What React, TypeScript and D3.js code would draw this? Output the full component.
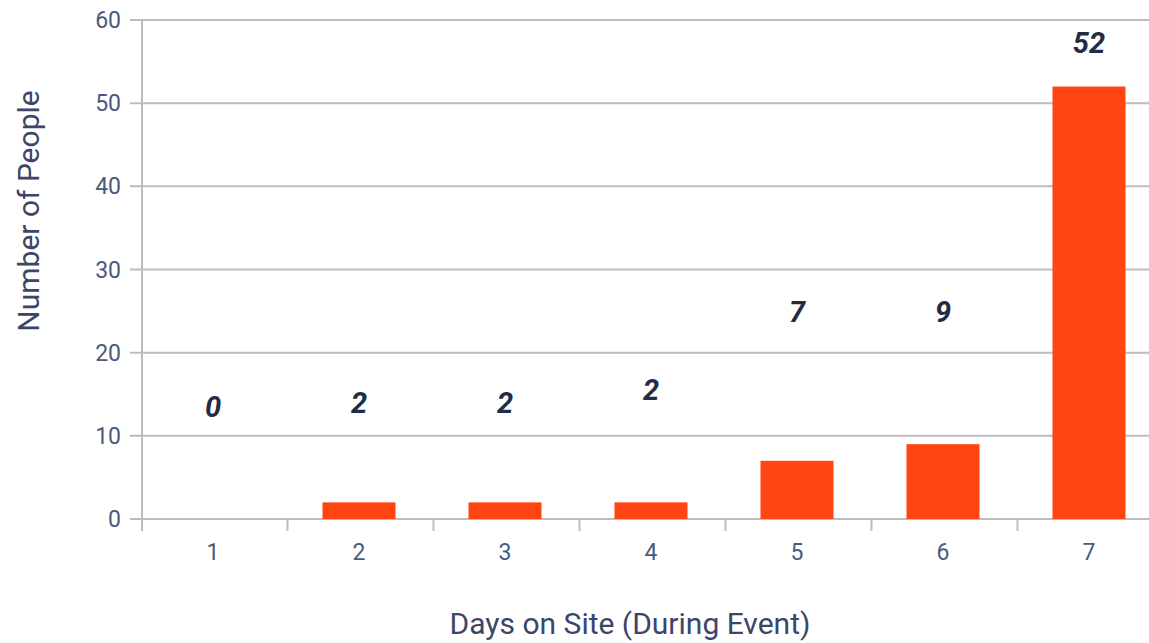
import React, { useEffect, useRef } from 'react';
import * as d3 from 'd3';

// chart data
const days = ['1', '2', '3', '4', '5', '6', '7'];
const people = [0, 2, 2, 2, 7, 9, 52];
const yTicks = [0, 10, 20, 30, 40, 50, 60];
// where each value label sits, in axis units (the source places them unevenly)
const labelLevels = [12.3, 12.7, 12.7, 14.3, 23.7, 23.7, 56];

const width = 1149;
const height = 643;
const left = 142;
const top = 20;
const bottom = 519;

const fontFamily = 'Roboto, "Noto Sans", sans-serif';

function App() {
  const ref = useRef<SVGSVGElement>(null);

  useEffect(() => {
    const svg = d3.select(ref.current);
    svg.selectAll('*').remove();

    const x = d3.scaleBand<string>()
      .domain(days)
      .range([left - 2, left - 2 + 7 * 146])
      .paddingInner(0.5)
      .paddingOuter(0.25);

    const y = d3.scaleLinear().domain([0, 60]).range([bottom, top]);

    // gridlines
    svg.append('g')
      .selectAll('line')
      .data(yTicks)
      .join('line')
      .attr('x1', left - 12)
      .attr('x2', width)
      .attr('y1', d => y(d))
      .attr('y2', d => y(d))
      .attr('stroke', '#bdbdbd')
      .attr('stroke-width', 2);

    // y axis line
    svg.append('line')
      .attr('x1', left).attr('x2', left)
      .attr('y1', top).attr('y2', bottom + 12)
      .attr('stroke', '#bdbdbd')
      .attr('stroke-width', 2);

    // x ticks at band boundaries
    const step = x.step();
    svg.append('g')
      .selectAll('line')
      .data(days.slice(1))
      .join('line')
      .attr('x1', d => (x(d) as number) - step * 0.25 + 1.5)
      .attr('x2', d => (x(d) as number) - step * 0.25 + 1.5)
      .attr('y1', bottom)
      .attr('y2', bottom + 12)
      .attr('stroke', '#bdbdbd')
      .attr('stroke-width', 2);

    // y tick labels
    svg.append('g')
      .selectAll('text')
      .data(yTicks)
      .join('text')
      .attr('x', left - 21)
      .attr('y', d => y(d))
      .attr('dy', '0.35em')
      .attr('text-anchor', 'end')
      .attr('font-family', fontFamily)
      .attr('font-size', 23)
      .attr('fill', '#4b5a7c')
      .text(d => d);

    // x tick labels
    svg.append('g')
      .selectAll('text')
      .data(days)
      .join('text')
      .attr('x', d => (x(d) as number) + x.bandwidth() / 2)
      .attr('y', 560)
      .attr('text-anchor', 'middle')
      .attr('font-family', fontFamily)
      .attr('font-size', 23)
      .attr('fill', '#4b5a7c')
      .text(d => d);

    // bars
    svg.append('g')
      .selectAll('rect')
      .data(people)
      .join('rect')
      .attr('x', (d, i) => x(days[i]) as number)
      .attr('width', x.bandwidth())
      .attr('y', d => y(d))
      .attr('height', d => bottom - y(d))
      .attr('fill', '#ff4511');

    // value labels
    svg.append('g')
      .selectAll('text')
      .data(people)
      .join('text')
      .attr('x', (d, i) => (x(days[i]) as number) + x.bandwidth() / 2)
      .attr('y', (d, i) => y(labelLevels[i]))
      .attr('text-anchor', 'middle')
      .attr('font-family', fontFamily)
      .attr('font-size', 29)
      .attr('font-weight', 'bold')
      .attr('font-style', 'italic')
      .attr('fill', '#232c47')
      .text(d => d);

    // axis titles
    svg.append('text')
      .attr('x', 630)
      .attr('y', 634)
      .attr('text-anchor', 'middle')
      .attr('font-family', fontFamily)
      .attr('font-size', 30)
      .attr('fill', '#3b4668')
      .text('Days on Site (During Event)');

    svg.append('text')
      .attr('transform', 'translate(39,211) rotate(-90)')
      .attr('text-anchor', 'middle')
      .attr('font-family', fontFamily)
      .attr('font-size', 30)
      .attr('fill', '#3b4668')
      .text('Number of People');
  }, []);

  return (
    <svg
      ref={ref}
      width={width}
      height={height}
      style={{ position: 'absolute', left: 0, top: 0, background: '#fff' }}
    />
  );
}

export default App;
